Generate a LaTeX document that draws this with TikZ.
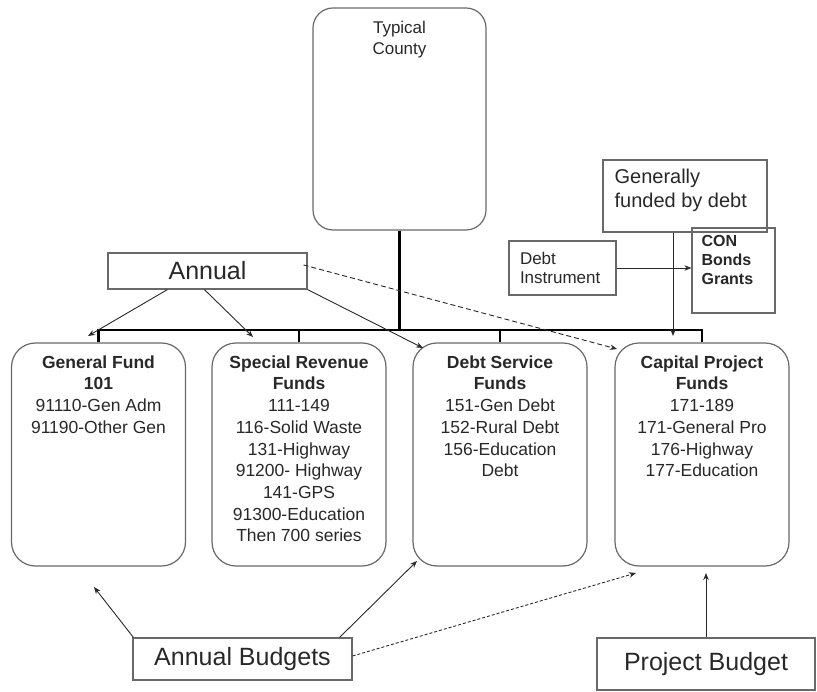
\documentclass[tikz,border=0pt]{standalone}
\usepackage{fontspec}
\setmainfont{Liberation Sans}
\usetikzlibrary{arrows.meta}
\definecolor{boxgrey}{RGB}{105,105,105}
\definecolor{inkgrey}{RGB}{40,40,40}
\tikzset{
  fundbox/.style={draw=boxgrey, line width=1.2pt, rounded corners=24pt, minimum width=174pt, minimum height=223pt},
  plainbox/.style={draw=boxgrey, line width=1.2pt, inner sep=0pt},
  fundtext/.style={anchor=north, align=center, inner sep=0pt, text=inkgrey, font=\fontsize{17.5}{21.7}\selectfont},
  arr/.style={-{Stealth[length=7pt,width=5.5pt]}, line width=0.9pt, draw=inkgrey},
  bus/.style={line width=2.8pt, draw=black},
}
\begin{document}
\begin{tikzpicture}[x=1pt, y=-1pt]
\useasboundingbox (0,0) rectangle (817,692);
\node [fundbox, rounded corners=20pt, minimum height=222pt, minimum width=173pt,
  label={[fundtext, yshift=-14pt, font=\fontsize{17}{21}\selectfont]north:{Typical\\County}}] (county) at (399.5,119) {};
\node [plainbox, minimum width=199pt, minimum height=36pt, text=inkgrey, font=\fontsize{25}{28}\selectfont] (annual) at (207.5,271) {Annual};
\node [plainbox, minimum width=164pt, minimum height=72pt,
  label={[anchor=north west, align=left, inner sep=0pt, xshift=12pt, yshift=-9pt, text=inkgrey, font=\fontsize{20}{24}\selectfont]north west:{Generally\\funded by debt}}] (fundedby) at (685,196) {};
\node [plainbox, minimum width=107pt, minimum height=54pt, align=left, text width=85pt, text=inkgrey, font=\fontsize{17}{19}\selectfont] (instr) at (562.5,268) {Debt\\Instrument};
\node [plainbox, minimum width=83pt, minimum height=85pt,
  label={[anchor=north west, align=left, inner sep=0pt, xshift=10pt, yshift=-8pt, text=inkgrey, font=\bfseries\fontsize{16}{19}\selectfont]north west:{CON\\Bonds\\Grants}}] (con) at (733.5,270.5) {};

\node [fundbox, label={[fundtext, yshift=-13pt]north:{\textbf{General Fund}\\\textbf{101}\\91110-Gen Adm\\91190-Other Gen}}] (genfund) at (98.5,454.5) {};
\node [fundbox, label={[fundtext, yshift=-13pt]north:{\textbf{Special Revenue}\\\textbf{Funds}\\111-149\\116-Solid Waste\\131-Highway\\91200- Highway\\141-GPS\\91300-Education\\Then 700 series}}] (revfund) at (299,454.5) {};
\node [fundbox, label={[fundtext, yshift=-13pt]north:{\textbf{Debt Service}\\\textbf{Funds}\\151-Gen Debt\\152-Rural Debt\\156-Education\\Debt}}] (debtfund) at (500,454.5) {};
\node [fundbox, label={[fundtext, yshift=-13pt]north:{\textbf{Capital Project}\\\textbf{Funds}\\171-189\\171-General Pro\\176-Highway\\177-Education}}] (capfund) at (702,454.5) {};

\node [plainbox, minimum width=219pt, minimum height=42pt, text=inkgrey, font=\fontsize{25}{28}\selectfont] (annbud) at (242.5,659) {Annual Budgets};
\node [plainbox, minimum width=218pt, minimum height=52pt, text=inkgrey, font=\fontsize{25}{28}\selectfont] (projbud) at (706,664) {Project Budget};

\coordinate (busl) at (97,330);
\coordinate (gfbus) at (88,336);
\coordinate (srbus) at (253,337);
\coordinate (dscorner) at (423,348);
\coordinate (cpcorner) at (617,349);
\coordinate (gfbelow) at (94,587);
\coordinate (dsbelow) at (417,561);
\coordinate (cpbelow) at (636,573);
\coordinate (pbtip) at (706,573);
\coordinate (fbtip) at (673,336);

\draw [bus] (county.south) -- (county.south |- busl);
\draw [bus] (genfund.north) -- (genfund.north |- busl) -- (capfund.north |- busl) -- (capfund.north);
\draw [line width=1.4pt] (revfund.north |- busl) -- (revfund.north);
\draw [line width=1.6pt] (debtfund.north |- busl) -- (debtfund.north);

\draw [arr] ([xshift=60pt]annual.south west) -- (gfbus);
\draw [arr] ([xshift=97pt]annual.south west) -- (srbus);
\draw [arr] (annual.south east) -- (dscorner);
\draw [arr, dash pattern=on 5pt off 3pt] ([xshift=-4pt, yshift=6pt]annual.east) -- (cpcorner);

\draw [arr] ([xshift=-12pt]fundedby.south) -- (fbtip);
\draw [arr] (instr.east) -- (instr.east -| con.west);

\draw [arr] ([xshift=1pt]annbud.north west) -- (gfbelow);
\draw [arr] ([xshift=-13pt]annbud.north east) -- (dsbelow);
\draw [arr, dash pattern=on 3pt off 2pt] ([yshift=3pt]annbud.east) -- (cpbelow);
\draw [arr] (projbud.north) -- (pbtip);
\end{tikzpicture}
\end{document}
